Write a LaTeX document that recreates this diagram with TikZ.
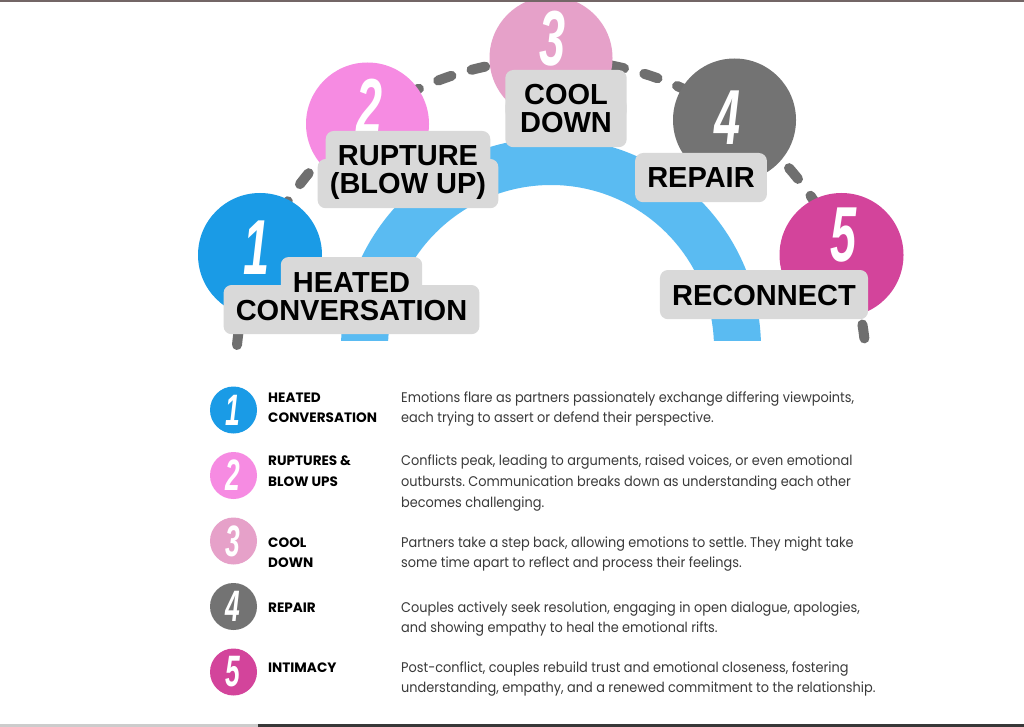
\documentclass[tikz,border=0pt]{standalone}
\usepackage{fontspec}
\setmainfont{Liberation Sans}
\newfontfamily\popf{Poppins}[FakeStretch=0.92]
\newfontfamily\popt{Poppins}
\definecolor{arcblue}{HTML}{5ABBF2}
\definecolor{cA}{HTML}{1A9BE6}
\definecolor{cB}{HTML}{F68BE2}
\definecolor{cC}{HTML}{E6A1C9}
\definecolor{cD}{HTML}{737373}
\definecolor{cE}{HTML}{D3449B}
\definecolor{lblgray}{HTML}{D9D9D9}
\definecolor{dashgray}{HTML}{6F6F6F}
\definecolor{descgray}{HTML}{3A3A3A}
\frenchspacing
\pgfdeclarelayer{bottom}
\pgfdeclarelayer{bg}
\pgfsetlayers{bottom,bg,main}
\begin{document}
\begin{tikzpicture}[x=1pt,y=-1pt,
  lbl/.style={font=\fontsize{29}{29}\selectfont\bfseries,
    text height=20.8pt, text depth=0pt, inner sep=0pt, anchor=base},
  disc/.style={circle, inner sep=0pt, minimum size=#1},
  bignum/.style={font=\fontsize{78}{78}\selectfont\bfseries\itshape, text=white, inner sep=0pt},
  smallnum/.style={font=\fontsize{44}{44}\selectfont\bfseries\itshape, text=white, inner sep=0pt},
  ttl/.style={font=\popt\bfseries\fontsize{13.6}{13.6}\selectfont, anchor=base west, inner sep=0pt},
  desc/.style={font=\popf\fontsize{14}{14}\selectfont, text=descgray, anchor=base west, inner sep=0pt}
]
\useasboundingbox (0,0) rectangle (1024,727);
\clip (0,0) rectangle (1024,727);

\begin{pgfonlayer}{bottom}
\fill[white] (0,0) rectangle (1024,727);
% dashed path
\draw[dashgray, line width=10pt, line cap=round, dash pattern=on 14pt off 21pt]
  (237,345) arc[start angle=185.5, end angle=354.5, radius=315.5];
% blue arc
\begin{scope}
\clip (300,0) rectangle (800,340);
\fill[arcblue, even odd rule] (551,348) circle[radius=210] (551,348) circle[radius=163];
\end{scope}
% big circles
\node[disc=124, fill=cA] (C1) at (260,255) {};
\node[disc=123, fill=cB] (C2) at (367.5,124) {};
\node[disc=123, fill=cC] (C3) at (551,58) {};
\node[disc=123, fill=cD] (C4) at (734.5,120) {};
\node[disc=124, fill=cE] (C5) at (841.5,255) {};
\node[bignum] (N1) at (257,248) {\scalebox{0.6}[1]{1}};
\node[bignum] (N2) at (370,106) {\scalebox{0.6}[1]{2}};
\node[bignum] (N3) at (553,39) {\scalebox{0.6}[1]{3}};
\node[bignum] (N4) at (728,118) {\scalebox{0.6}[1]{4}};
\node[bignum] (N5) at (843,235) {\scalebox{0.6}[1]{5}};
\end{pgfonlayer}

% label texts
\node[lbl] (L1a) at (351.5,292) {HEATED};
\node[lbl] (L1b) at (351.5,320) {CONVERSATION};
\node[lbl] (L2a) at (408,166) {RUPTURE};
\node[lbl] (L2b) at (408,194) {(BLOW UP)};
\node[lbl, minimum width=97pt] (L3a) at (566,105) {COOL};
\node[lbl, minimum width=97pt] (L3b) at (566,133) {DOWN};
\node[lbl] (L4) at (701,188) {REPAIR};
\node[lbl] (L5) at (764,305) {RECONNECT};

% label backgrounds
\begin{pgfonlayer}{bg}
\foreach \nm in {L1a,L1b,L2a,L2b,L3a,L3b,L4,L5}
  \fill[lblgray, rounded corners=8pt]
    ([shift={(-12pt,-14pt)}]\nm.south west) rectangle ([shift={(12pt,14pt)}]\nm.north east);
\end{pgfonlayer}

% legend circles
\node[disc=47, fill=cA] (S1) at (233.5,410) {};
\node[disc=47, fill=cB] (S2) at (233.5,475.5) {};
\node[disc=47, fill=cC] (S3) at (233.5,541) {};
\node[disc=47, fill=cD] (S4) at (233.5,606.5) {};
\node[disc=47, fill=cE] (S5) at (233.5,672) {};
\node[smallnum] (M1) at (233,410) {\scalebox{0.6}[1]{1}};
\node[smallnum] (M2) at (233,475.5) {\scalebox{0.6}[1]{2}};
\node[smallnum] (M3) at (233,541) {\scalebox{0.6}[1]{3}};
\node[smallnum] (M4) at (233,606.5) {\scalebox{0.6}[1]{4}};
\node[smallnum] (M5) at (233,672) {\scalebox{0.6}[1]{5}};

% legend titles
\node[ttl] (T1a) at (268,402) {HEATED};
\node[ttl] (T1b) at (268,422) {CONVERSATION};
\node[ttl] (T2a) at (268,465) {RUPTURES \&};
\node[ttl] (T2b) at (268,486) {BLOW UPS};
\node[ttl] (T3a) at (268,547) {COOL};
\node[ttl] (T3b) at (268,567) {DOWN};
\node[ttl] (T4) at (268,612) {REPAIR};
\node[ttl] (T5) at (268,672) {INTIMACY};

% descriptions
\node[desc] (D1a) at (401,402) {Emotions flare as partners passionately exchange differing viewpoints,};
\node[desc] (D1b) at (401,422) {each trying to assert or defend their perspective.};
\node[desc] (D2a) at (401,465) {Conflicts peak, leading to arguments, raised voices, or even emotional};
\node[desc] (D2b) at (401,486) {outbursts. Communication breaks down as understanding each other};
\node[desc] (D2c) at (401,507) {becomes challenging.};
\node[desc] (D3a) at (401,547) {Partners take a step back, allowing emotions to settle. They might take};
\node[desc] (D3b) at (401,567) {some time apart to reflect and process their feelings.};
\node[desc] (D4a) at (401,612) {Couples actively seek resolution, engaging in open dialogue, apologies,};
\node[desc] (D4b) at (401,632) {and showing empathy to heal the emotional rifts.};
\node[desc] (D5a) at (401,672) {Post-conflict, couples rebuild trust and emotional closeness, fostering};
\node[desc] (D5b) at (401,692) {understanding, empathy, and a renewed commitment to the relationship.};

% frame edges
\fill[black!75!red!20!gray] (0,0) rectangle (1024,2.5);
\fill[black!20] (0,724) rectangle (258,727);
\fill[black!78] (258,724) rectangle (1024,727);
\end{tikzpicture}
\end{document}
